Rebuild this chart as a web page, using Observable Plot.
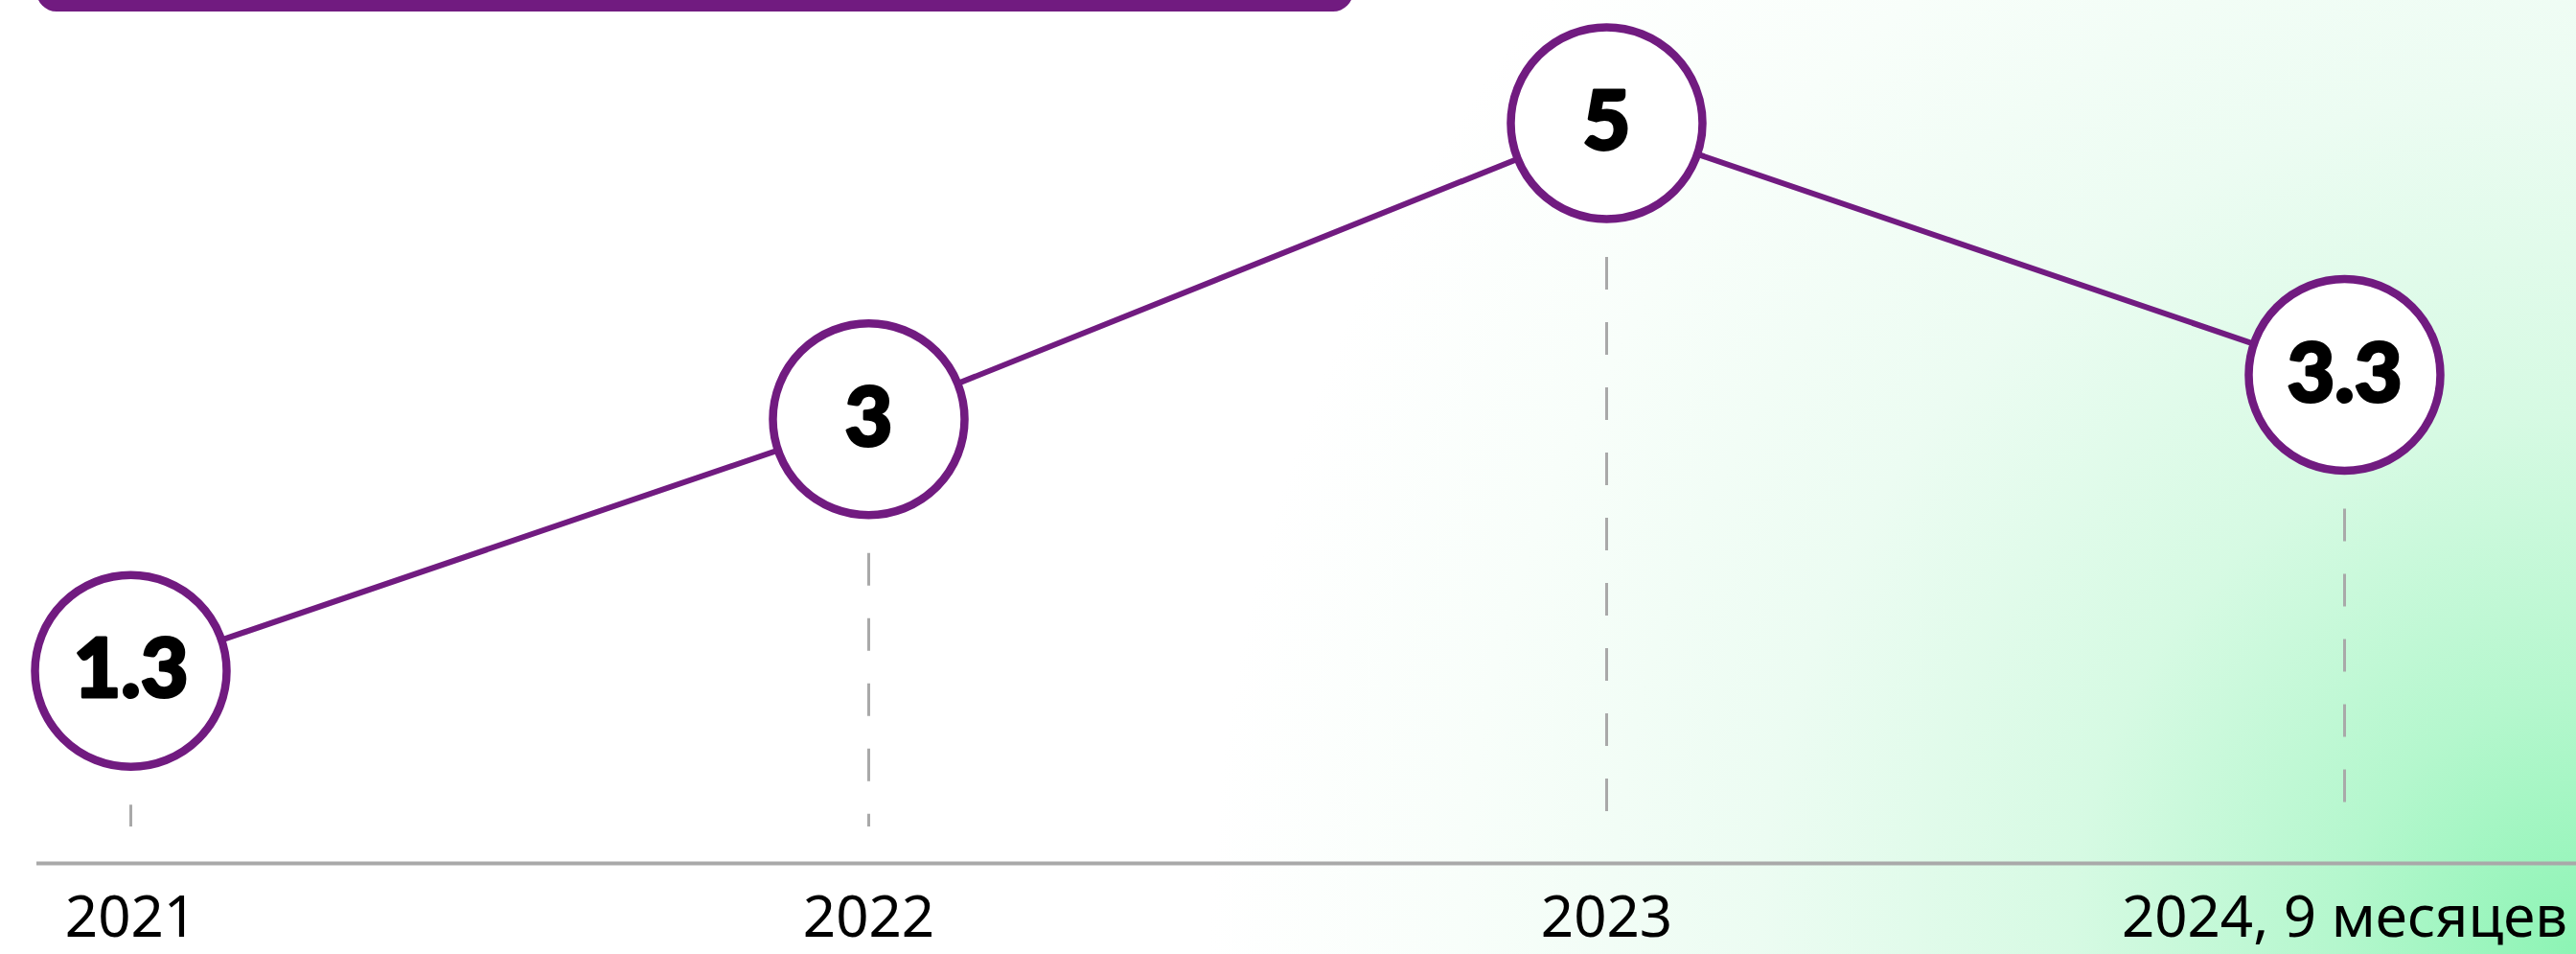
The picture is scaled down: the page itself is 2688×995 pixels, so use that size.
<!DOCTYPE html>
<html><head><meta charset="utf-8">
<script src="https://cdn.jsdelivr.net/npm/d3@7"></script>
<script src="https://cdn.jsdelivr.net/npm/@observablehq/plot@0.6"></script>
<style>
html,body{margin:0;padding:0;}
body{width:2688px;height:995px;overflow:hidden;position:relative;
background: radial-gradient(ellipse 1550px 1650px at 100% 100%, #8cf4b4 0%, #b4f7cd 16%, #d6fae3 34%, #ecfcf2 55%, #f8fefa 75%, #ffffff 92%);}
#topbar{position:absolute;left:38px;top:-30px;width:1374px;height:42px;border-radius:24px;background:#711b80;}
#chart{position:absolute;left:0;top:0;}
</style></head><body>
<div id="topbar"></div>
<div id="chart"></div>
<script>
const periods = ["2021", "2022", "2023", "2024, 9 месяцев"];
const values = [1.3, 3, 5, 3.3];
const valueLabels = ["1.3", "3", "5", "3.3"];
const data = periods.map((p, i) => ({period: p, value: values[i], label: valueLabels[i]}));
const purple = "#711b80";
const chart = Plot.plot({
  width: 2688, height: 995,
  marginLeft: 38, marginRight: 0, marginTop: 128, marginBottom: 95,
  style: {background: "transparent", fontFamily: "'Noto Sans',sans-serif", fontSize: "60px", color: "#000", overflow: "visible"},
  x: {type: "point", domain: periods, padding: 0, insetLeft: 97, insetRight: 242, tickSize: 0, tickPadding: 34, label: null},
  y: {domain: [0, 5], axis: null},
  marks: [
    Plot.ruleX(data, {x: "period", y1: "value", y2: 0, insetTop: 140, insetBottom: 38, stroke: "#a9a9a9", strokeWidth: 3, strokeDasharray: "34,34"}),
    Plot.ruleY([0], {stroke: "#a9a9a9", strokeWidth: 4}),
    Plot.line(data, {x: "period", y: "value", stroke: purple, strokeWidth: 6}),
    Plot.dot(data, {x: "period", y: "value", r: 100, fill: "white", stroke: purple, strokeWidth: 8.5}),
    Plot.text(data, {x: "period", y: "value", text: "label", fontFamily: "Lato", fontWeight: 900, fontSize: 86, fill: "black", stroke: "black", strokeWidth: 3})
  ]
});
document.getElementById("chart").appendChild(chart);
</script>
</body></html>
